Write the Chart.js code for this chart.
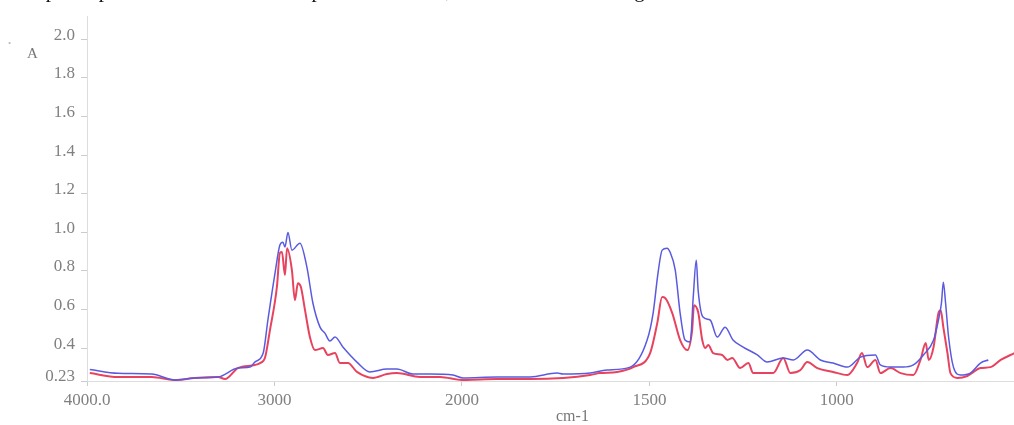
<!DOCTYPE html>
<html>
<head>
<meta charset="utf-8">
<script src="https://cdn.jsdelivr.net/npm/chart.js@4/dist/chart.umd.min.js"></script>
<style>
  body { margin: 0; background: #fff; overflow: hidden; }
  #wrap { position: relative; width: 1014px; height: 425px; }
  .txt { position: absolute; font-family: "Liberation Serif", serif; color: #777; white-space: nowrap; }
</style>
</head>
<body>
<div id="wrap">
  <canvas id="espectro" width="1014" height="425"></canvas>
  <div class="txt" style="top:-22px;left:20px;font-size:21px;line-height:24px;color:#111;word-spacing:14px;">ample spectra has been compared with it, as shown in Figure 3</div>
  <div class="txt" style="top:45px;left:27px;font-size:15px;">A</div>
  <div class="txt" style="top:38px;left:8px;font-size:9px;color:#bbb;">&#8226;</div>
  <div class="txt" style="top:407px;left:556px;font-size:16px;">cm-1</div>
</div>
<script>
// --=| Ticks dos eixos
const xTicks = [4000, 3000, 2000, 1500, 1000];
const yTicks = [0.23, 0.4, 0.6, 0.8, 1.0, 1.2, 1.4, 1.6, 1.8, 2.0];

// --=| Espectro azul (cm-1 / absorbância)
const azulNum = [3985, 3835, 3655, 3530, 3425, 3300, 3195, 3130, 3105, 3060, 3035, 2997, 2971, 2955, 2944, 2928, 2907, 2864, 2827, 2795, 2757, 2731, 2704, 2677, 2635, 2560, 2491, 2400, 2347, 2261, 2171, 2048, 1997, 1907, 1818, 1746, 1730, 1658, 1613, 1551, 1506, 1490, 1477, 1466, 1453, 1445, 1431, 1418, 1405, 1391, 1383, 1375, 1370, 1357, 1338, 1319, 1298, 1277, 1250, 1212, 1186, 1143, 1116, 1079, 1044, 1010, 972, 937, 897, 884, 857, 823, 796, 769, 742, 729, 721, 716, 710, 702, 689, 670, 644, 617, 596];
const azulAbs = [0.29, 0.27, 0.266, 0.235, 0.246, 0.251, 0.297, 0.302, 0.328, 0.375, 0.546, 0.789, 0.934, 0.949, 0.924, 1.0, 0.908, 0.944, 0.82, 0.634, 0.509, 0.478, 0.437, 0.458, 0.406, 0.328, 0.277, 0.292, 0.292, 0.266, 0.266, 0.261, 0.246, 0.251, 0.251, 0.271, 0.266, 0.271, 0.287, 0.302, 0.442, 0.582, 0.789, 0.908, 0.918, 0.898, 0.805, 0.582, 0.442, 0.432, 0.665, 0.856, 0.701, 0.561, 0.546, 0.458, 0.509, 0.442, 0.406, 0.365, 0.328, 0.349, 0.339, 0.39, 0.339, 0.323, 0.302, 0.354, 0.365, 0.313, 0.302, 0.302, 0.313, 0.365, 0.442, 0.546, 0.634, 0.742, 0.634, 0.458, 0.302, 0.261, 0.271, 0.323, 0.339];

// --=| Espectro vermelho
const vermNum = [3985, 3835, 3655, 3530, 3425, 3300, 3264, 3195, 3104, 3077, 3051, 3024, 2987, 2971, 2960, 2944, 2933, 2907, 2891, 2875, 2859, 2837, 2811, 2784, 2741, 2715, 2677, 2651, 2608, 2560, 2475, 2400, 2347, 2224, 2117, 1997, 1907, 1818, 1730, 1658, 1632, 1586, 1543, 1498, 1479, 1466, 1458, 1439, 1418, 1399, 1386, 1381, 1370, 1359, 1351, 1343, 1330, 1306, 1292, 1279, 1258, 1236, 1223, 1196, 1170, 1143, 1124, 1097, 1079, 1052, 1010, 972, 946, 933, 919, 897, 884, 857, 830, 796, 777, 763, 755, 742, 729, 723, 716, 705, 697, 678, 652, 617, 590, 563, 526];
const vermAbs = [0.271, 0.251, 0.251, 0.235, 0.246, 0.251, 0.24, 0.297, 0.313, 0.323, 0.349, 0.494, 0.717, 0.893, 0.898, 0.779, 0.918, 0.805, 0.649, 0.737, 0.717, 0.597, 0.458, 0.39, 0.401, 0.365, 0.375, 0.323, 0.323, 0.277, 0.246, 0.266, 0.271, 0.251, 0.251, 0.235, 0.24, 0.24, 0.246, 0.261, 0.271, 0.277, 0.302, 0.375, 0.53, 0.665, 0.66, 0.582, 0.442, 0.39, 0.494, 0.623, 0.587, 0.442, 0.401, 0.416, 0.375, 0.365, 0.339, 0.349, 0.297, 0.323, 0.271, 0.271, 0.271, 0.349, 0.271, 0.287, 0.328, 0.297, 0.277, 0.261, 0.323, 0.375, 0.302, 0.339, 0.271, 0.297, 0.271, 0.261, 0.339, 0.427, 0.339, 0.406, 0.582, 0.597, 0.509, 0.375, 0.271, 0.246, 0.256, 0.297, 0.302, 0.339, 0.375];

// eixo com mudança de escala em 2000 cm-1 (como nos espectrômetros)
function eixoX(n) {
  return n >= 2000 ? 4000 - n : 2000 + (2000 - n) * 2;
}

function pontos(nums, abs) {
  return nums.map((n, i) => ({ x: eixoX(n), y: abs[i] }));
}

const cinza = "#808080";
const fonte = { family: "'Liberation Serif', serif", size: 17 };

new Chart(document.getElementById("espectro"), {
  type: "line",
  data: {
    datasets: [
      {
        data: pontos(azulNum, azulAbs),
        borderColor: "#5a5ae0",
        borderWidth: 1.5,
        pointRadius: 0,
        cubicInterpolationMode: "monotone",
      },
      {
        data: pontos(vermNum, vermAbs),
        borderColor: "#e8435e",
        borderWidth: 2,
        pointRadius: 0,
        cubicInterpolationMode: "monotone",
      },
    ],
  },
  options: {
    responsive: false,
    animation: false,
    devicePixelRatio: 1,
    layout: { padding: { top: 8, right: 0, left: 0, bottom: 0 } },
    plugins: { legend: { display: false }, tooltip: { enabled: false } },
    scales: {
      x: {
        type: "linear",
        min: 0,
        max: 4945,
        afterBuildTicks: (s) => { s.ticks = xTicks.map((n) => ({ value: eixoX(n) })); },
        afterFit: (s) => { s.height = 44; },
        ticks: {
          color: cinza,
          font: fonte,
          padding: 4,
          maxRotation: 0,
          callback: (v) => {
            const n = xTicks.find((t) => eixoX(t) === v);
            return n === 4000 ? "4000.0" : String(n);
          },
        },
        grid: { drawOnChartArea: false, tickLength: 5, color: "#ccc" },
        border: { color: "#ddd" },
      },
      y: {
        min: 0.23,
        max: 2.12,
        afterBuildTicks: (s) => { s.ticks = yTicks.map((v) => ({ value: v })); },
        afterFit: (s) => { s.width = 87; },
        ticks: {
          color: cinza,
          font: fonte,
          padding: 6,
          labelOffset: -4,
          callback: (v) => (v === 0.23 ? "0.23" : v.toFixed(1)),
        },
        grid: { drawOnChartArea: false, tickLength: 6, color: "#ccc" },
        border: { color: "#ddd" },
      },
    },
  },
});
</script>
</body>
</html>
